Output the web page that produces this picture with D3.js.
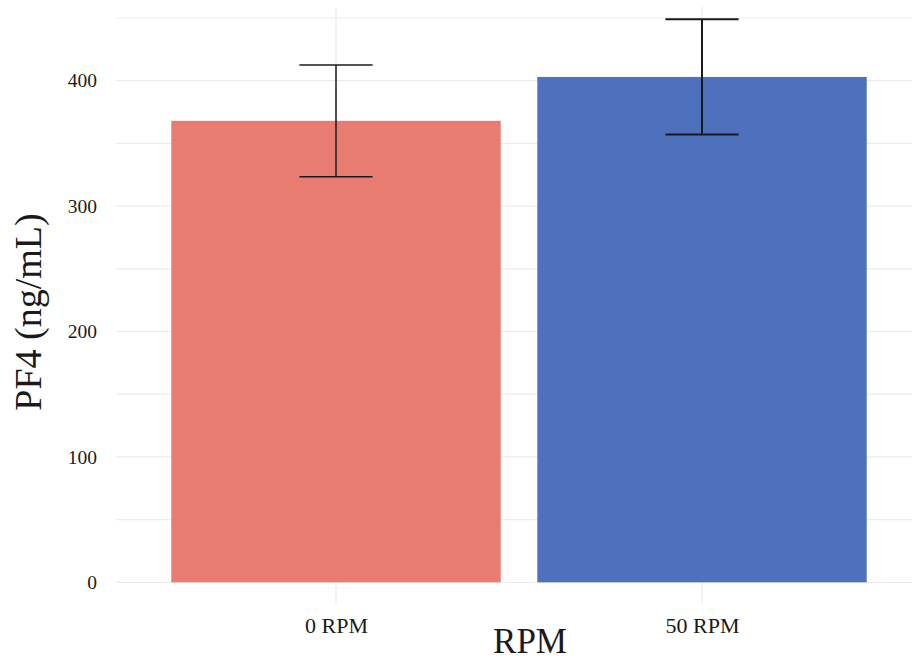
<!DOCTYPE html>
<html>
<head>
<meta charset="utf-8">
<script src="https://cdn.jsdelivr.net/npm/d3@7"></script>
<style>
  body { margin: 0; background: #fff; }
  svg { display: block; }
  text { font-family: "Liberation Serif", "Times New Roman", serif; fill: #1a1a1a; }
</style>
</head>
<body>
<script>
// données
const categories = ["0 RPM", "50 RPM"];
const moyennes = [368, 403];
const erreurs = [44.5, 46];
const couleurs = ["#E87C70", "#4F71BD"];
const ticksY = [0, 100, 200, 300, 400];
const ticksMineurs = [50, 150, 250, 350, 450];

const width = 912, height = 662;

const svg = d3.select("body").append("svg")
    .attr("width", width)
    .attr("height", height);

// échelles
const x = d3.scalePoint()
    .domain(categories)
    .range([116.4, 921.6])
    .padding(0.6);

const y = d3.scaleLinear()
    .domain([0, 400])
    .range([582.3, 80.7]);

const step = x.step();
const barW = step * 0.9;
const capW = step * 0.2;

// grille horizontale
const grille = svg.append("g");
grille.selectAll("line.h")
    .data(ticksY.concat(ticksMineurs))
    .join("line")
    .attr("x1", 116.4)
    .attr("x2", width)
    .attr("y1", d => y(d))
    .attr("y2", d => y(d))
    .attr("stroke", "#ebebeb")
    .attr("stroke-width", 1.2);

// grille verticale + petits traits sous l'axe
grille.selectAll("line.v")
    .data(categories)
    .join("line")
    .attr("x1", d => x(d))
    .attr("x2", d => x(d))
    .attr("y1", y(459))
    .attr("y2", y(0) + 21)
    .attr("stroke", "#ebebeb")
    .attr("stroke-width", 1.2);

// barres
svg.selectAll("rect.bar")
    .data(categories)
    .join("rect")
    .attr("class", "bar")
    .attr("x", d => x(d) - barW / 2)
    .attr("width", barW)
    .attr("y", (d, i) => y(moyennes[i]))
    .attr("height", (d, i) => y(0) - y(moyennes[i]))
    .attr("fill", (d, i) => couleurs[i]);

// barres d'erreur
const eb = svg.selectAll("g.err")
    .data(categories)
    .join("g")
    .attr("stroke", "#1a1a1a")
    .attr("stroke-width", (d, i) => i === 0 ? 1.5 : 2);

eb.append("line")
    .attr("x1", d => x(d)).attr("x2", d => x(d))
    .attr("y1", (d, i) => y(moyennes[i] + erreurs[i]))
    .attr("y2", (d, i) => y(moyennes[i] - erreurs[i]));
eb.append("line")
    .attr("x1", d => x(d) - capW / 2).attr("x2", d => x(d) + capW / 2)
    .attr("y1", (d, i) => y(moyennes[i] + erreurs[i]))
    .attr("y2", (d, i) => y(moyennes[i] + erreurs[i]));
eb.append("line")
    .attr("x1", d => x(d) - capW / 2).attr("x2", d => x(d) + capW / 2)
    .attr("y1", (d, i) => y(moyennes[i] - erreurs[i]))
    .attr("y2", (d, i) => y(moyennes[i] - erreurs[i]));

// axe Y
const axeY = d3.axisLeft(y).tickValues(ticksY).tickSize(0).tickPadding(0);
const gY = svg.append("g")
    .attr("transform", "translate(97,0)")
    .call(axeY);
gY.select(".domain").remove();
gY.selectAll("text")
    .style("font-size", "19.5px")
    .attr("dy", "0.32em");

// axe X
const axeX = d3.axisBottom(x).tickSize(0).tickPadding(0);
const gX = svg.append("g")
    .attr("transform", "translate(0," + (y(0) + 35) + ")")
    .call(axeX);
gX.select(".domain").remove();
gX.selectAll("text")
    .style("font-size", "22px")
    .attr("dy", "0.7em");

// titres
svg.append("text")
    .attr("x", 530)
    .attr("y", 653)
    .attr("text-anchor", "middle")
    .style("font-size", "35px")
    .text("RPM");

svg.append("text")
    .attr("transform", "translate(41,312) rotate(-90)")
    .attr("text-anchor", "middle")
    .style("font-size", "38px")
    .text("PF4 (ng/mL)");
</script>
</body>
</html>
